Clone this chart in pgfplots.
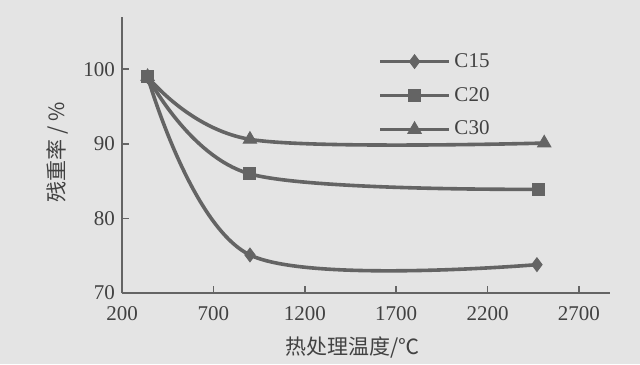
\documentclass[border=0pt]{standalone}
\usepackage{pgfplots}
\pgfplotsset{compat=1.18}
\usepackage{fontspec}
\setmainfont{Liberation Serif}
\newfontfamily\cjk{Noto Sans CJK SC}
\definecolor{bg}{RGB}{228,228,228}
\definecolor{ln}{RGB}{100,100,100}
\definecolor{tx}{RGB}{65,65,65}
\begin{document}
\begin{tikzpicture}
\useasboundingbox (0,0) rectangle (320pt,182pt);
\fill[bg] (0,0) rectangle (320pt,182pt);
\begin{axis}[
  at={(61pt,35.5pt)}, anchor=south west,
  scale only axis, width=244pt, height=138pt,
  xmin=200, xmax=2870, ymin=70, ymax=107,
  axis x line*=bottom, axis y line*=left,
  axis line style={ln, line width=1pt},
  xtick={200,700,1200,1700,2200,2700},
  ytick={70,80,90,100},
  tick align=inside, major tick length=3.5pt,
  tick style={ln, line width=0.8pt},
  /pgf/number format/assume math mode=true,
  /pgf/number format/1000 sep={},
  ticklabel style={font=\fontsize{10.5}{12}\selectfont, text=tx},
  xticklabel style={yshift=-3pt},
  xlabel={\cjk 热处理温度/℃},
  ylabel={\cjk 残重率 / \%},
  xlabel style={at={(axis description cs:0.473,-0.199)}, anchor=center, font=\fontsize{10.5}{12}\selectfont, text=tx},
  ylabel style={at={(axis description cs:-0.133,0.51)}, anchor=center, rotate=0, font=\fontsize{10.5}{12}\selectfont, text=tx},
  legend style={draw=none, fill=none, at={(0.525,0.885)}, anchor=north west,
    font=\fontsize{10.5}{12}\selectfont, text=tx, row sep=4.5pt, inner sep=0pt},
  legend cell align=left,
  legend image code/.code={\draw[mark repeat=2,mark phase=2,#1] plot coordinates {(0cm,0cm) (0.6cm,0cm) (1.2cm,0cm)};},
  every axis plot/.append style={ln, line width=1.8pt, smooth, tension=0.55},
]
\addplot[mark=diamond*, mark size=3.4pt, mark options={solid, line width=0.5pt, fill=ln}] coordinates {(340,99) (900,75.1) (2470,73.8)};
\addlegendentry{C15}
\addplot[mark=square*, mark size=3pt, mark options={solid, line width=0.5pt, fill=ln}] coordinates {(340,99) (895,86) (2480,83.9)};
\addlegendentry{C20}
\addplot[mark=triangle*, mark size=3.8pt, mark options={solid, line width=0.5pt, fill=ln}] coordinates {(340,99) (900,90.6) (2510,90.1)};
\addlegendentry{C30}
\addplot[forget plot, only marks, mark=square*, mark size=3pt, mark options={solid, line width=0.5pt, fill=ln}] coordinates {(340,99)};
\end{axis}
\end{tikzpicture}
\end{document}
